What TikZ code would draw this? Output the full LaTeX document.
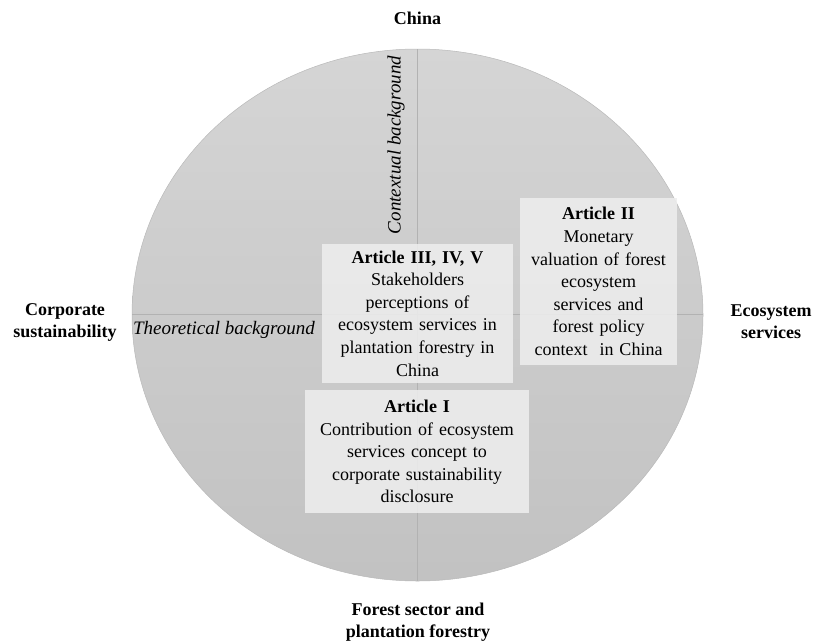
\documentclass[tikz,border=0pt]{standalone}
\usepackage{fontspec}
\setmainfont{Liberation Serif}
\begin{document}
\begin{tikzpicture}[x=1pt, y=-1pt,
  axis/.style={draw=gray!60, line width=0.6pt},
  article/.style={fill=gray!14, fill opacity=0.88, text opacity=1, align=center, inner sep=0pt,
    font=\fontsize{18}{22.6}\selectfont},
  side/.style={align=center, font=\fontsize{18}{22}\selectfont\bfseries},
  bg/.style={font=\fontsize{19}{21}\selectfont\itshape}]
  \useasboundingbox (0,0) rectangle (813,643);
  \shade[top color=gray!33, bottom color=gray!48, draw=gray!55, line width=0.5pt]
    (417.5,315) ellipse [x radius=285.5, y radius=266];
  \coordinate (n) at (417.5,49);
  \coordinate (s) at (417.5,581);
  \coordinate (w) at (132,314);
  \coordinate (e) at (703,314);
  \draw[axis] (n) -- (s);
  \draw[axis] (w) -- (e);
  \node[side] (china) at (417.5,18) {China};
  \node[side] (corp) at (65,322) {Corporate\\sustainability};
  \node[side] (ecos) at (771,322) {Ecosystem\\services};
  \node[side] (forest) at (418,622) {Forest sector and\\plantation forestry};
  \node[bg] (theo) at (224,330) {Theoretical background};
  \node[bg, rotate=90] (context) at (396,145) {Contextual background};
  \node[article, text width=191pt, minimum height=139pt] (art3) at (417.5,313.5)
    {\textbf{Article III, IV, V}\\Stakeholders\\perceptions of\\ecosystem services in\\plantation forestry in\\China};
  \node[article, text width=157pt, minimum height=167pt] (art2) at (598.5,281.5)
    {\textbf{Article II}\\Monetary\\valuation of forest\\ecosystem\\services and\\forest policy\\context~ in China};
  \node[article, text width=224pt, minimum height=123pt] (art1) at (417,451.5)
    {\textbf{Article I}\\Contribution of ecosystem\\services concept to\\corporate sustainability\\disclosure};
\end{tikzpicture}
\end{document}
